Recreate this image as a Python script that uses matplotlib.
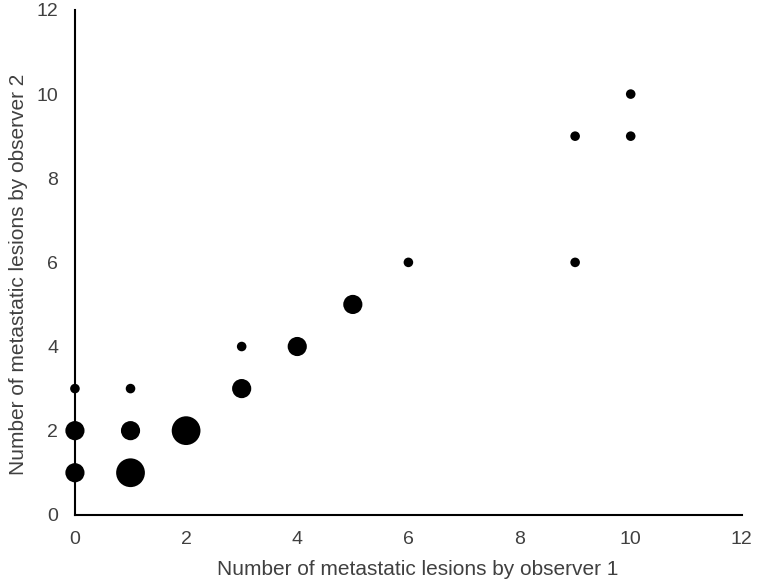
import matplotlib.pyplot as plt
import numpy as np

plt.rcParams['font.family'] = ['Liberation Sans', 'DejaVu Sans']

# observer readings and how many patients share each pair
obs1 = [0, 0, 0, 1, 1, 1, 2, 3, 3, 4, 5, 6, 9, 9, 10, 10]
obs2 = [1, 2, 3, 1, 2, 3, 2, 3, 4, 4, 5, 6, 6, 9, 9, 10]
counts = [2, 2, 1, 3, 2, 1, 3, 2, 1, 2, 2, 1, 1, 1, 1, 1]

fig = plt.figure(figsize=(7.57, 5.85), dpi=100)
ax = fig.add_axes([0.099, 0.12, 0.881, 0.863])

diam = 6.9 * np.array(counts)  # marker diameter in points grows with count
ax.scatter(obs1, obs2, s=diam ** 2, c='black', linewidths=0, zorder=3, clip_on=False)

ax.set_xlim(0, 12)
ax.set_ylim(0, 12)
ax.set_xticks(range(0, 13, 2))
ax.set_yticks(range(0, 13, 2))
for side in ['top', 'right']:
    ax.spines[side].set_visible(False)
for side in ['left', 'bottom']:
    ax.spines[side].set_color('black')
    ax.spines[side].set_linewidth(1.5)
ax.tick_params(length=0, pad=12, labelsize=14, labelcolor='#404040')
ax.set_xlabel('Number of metastatic lesions by observer 1', fontsize=15, color='#404040', labelpad=8)
ax.set_ylabel('Number of metastatic lesions by observer 2', fontsize=15, color='#404040', labelpad=6)
ax.xaxis.label.set_x(0.514)
ax.yaxis.label.set_y(0.477)

fig.savefig('out.png', dpi=100)
